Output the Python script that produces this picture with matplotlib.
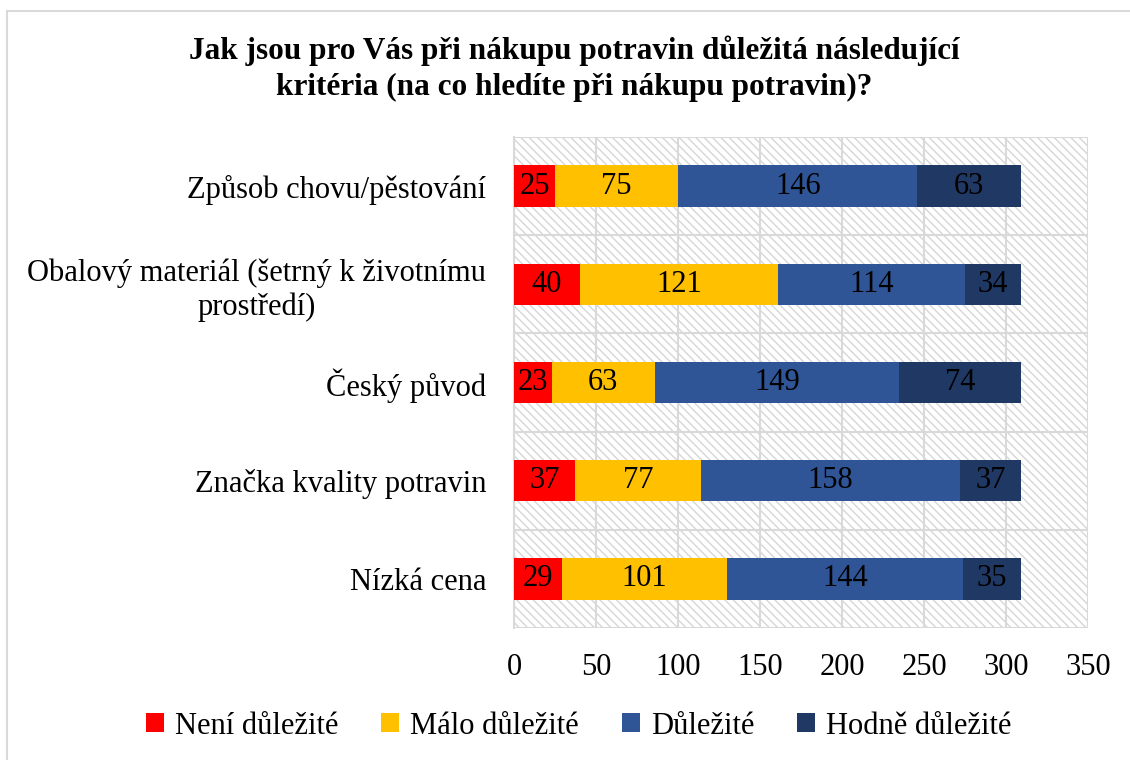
import matplotlib.pyplot as plt
from matplotlib.patches import Rectangle
import numpy as np

# data (top -> bottom)
kategorie = ['Způsob chovu/pěstování',
             'Obalový materiál (šetrný k životnímu\nprostředí)',
             'Český původ',
             'Značka kvality potravin',
             'Nízká cena']
neni = [25, 40, 23, 37, 29]
malo = [75, 121, 63, 77, 101]
dulezite = [146, 114, 149, 158, 144]
hodne = [63, 34, 74, 37, 35]

serie = ['Není důležité', 'Málo důležité', 'Důležité', 'Hodně důležité']
barvy = ['#FF0000', '#FFC000', '#2F5597', '#203864']

plt.rcParams['font.family'] = ['Liberation Serif', 'DejaVu Serif']
plt.rcParams['hatch.linewidth'] = 1.0

fig = plt.figure(figsize=(11.3, 7.6), dpi=100)
ax = fig.add_axes([514 / 1130, 1 - 628 / 760, (1088 - 514) / 1130, (628 - 137) / 760])

# outer chart border (cropped on right/bottom like the source)
fig.patches.append(Rectangle((7 / 1130, -0.05), 1.1, 1 - 11 / 760 + 0.05,
                             transform=fig.transFigure, fill=False,
                             edgecolor='#d9d9d9', linewidth=1.5))

# hatched plot area
ax.add_patch(Rectangle((0, 0), 1, 1, transform=ax.transAxes, facecolor='white',
                       edgecolor='#d6d6d6', hatch='\\\\\\\\', linewidth=0, zorder=0))

y = np.arange(len(kategorie))
left = np.zeros(len(kategorie))
for hodnoty, nazev, barva in zip([neni, malo, dulezite, hodne], serie, barvy):
    hodnoty = np.array(hodnoty)
    ax.barh(y, hodnoty, left=left, height=0.42, color=barva, label=nazev, zorder=3)
    for yi, l, v in zip(y, left, hodnoty):
        ax.text(l + v / 2, yi, str(v), ha='center', va='center', fontsize=22,
                color='black', zorder=4)
    left += hodnoty

ax.set_xlim(0, 350)
ax.set_ylim(len(kategorie) - 0.5, -0.5)
ax.set_xticks(range(0, 351, 50))
ax.set_yticks(y)
ax.set_yticklabels(kategorie, multialignment='center')
ax.set_yticks(np.arange(-0.5, len(kategorie), 1), minor=True)

ax.grid(axis='x', color='#d9d9d9', linewidth=1.5, zorder=1)
ax.grid(axis='y', which='minor', color='#d9d9d9', linewidth=1.5, zorder=1)
ax.set_axisbelow(True)
for s in ax.spines.values():
    s.set_visible(False)
ax.spines['left'].set_visible(True)
ax.spines['left'].set_color('#d9d9d9')
ax.spines['left'].set_linewidth(1.5)

ax.tick_params(axis='both', which='both', length=0, labelsize=22)
ax.tick_params(axis='x', pad=18)
ax.tick_params(axis='y', pad=20)

fig.text(0.508, 1 - 69 / 760,
         'Jak jsou pro Vás při nákupu potravin důležitá následující\n'
         'kritéria (na co hledíte při nákupu potravin)?',
         ha='center', va='center', fontsize=22.5, fontweight='bold', linespacing=1.3)

fig.legend(loc='center', bbox_to_anchor=(0.512, 1 - 726 / 760), ncol=4, frameon=False,
           fontsize=22, handlelength=0.6, handleheight=0.6, handletextpad=0.35,
           columnspacing=1.4)

fig.savefig('out.png', dpi=100)
